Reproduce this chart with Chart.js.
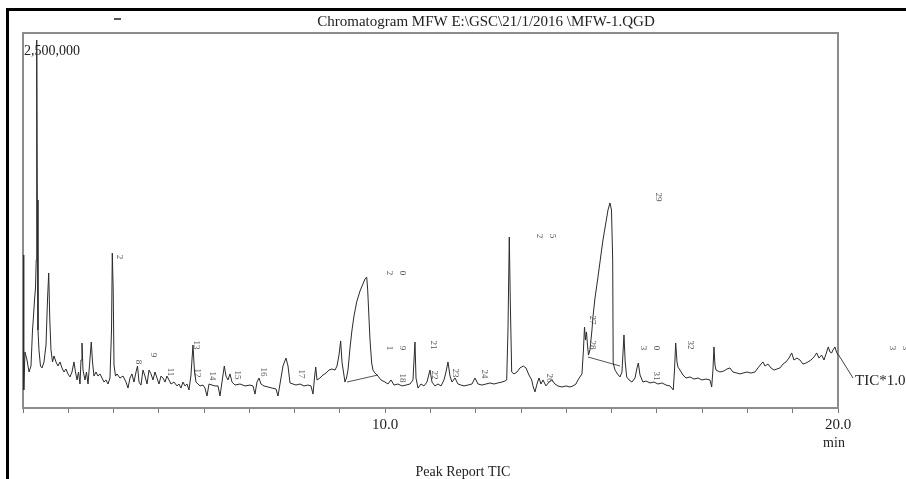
<!DOCTYPE html>
<html>
<head>
<meta charset="utf-8">
<script src="https://cdn.jsdelivr.net/npm/chart.js@4.4.1/dist/chart.umd.min.js"></script>
<style>
  body { margin: 0; background: #fff; }
  canvas { display: block; }
</style>
</head>
<body>
<canvas id="tic" width="906" height="479"></canvas>
<script>
// retention time (min) and TIC intensity (thousand counts)
var retentionTime = [
  2.000, 2.011, 2.022, 2.044, 2.088, 2.133, 2.177, 2.210, 2.232, 2.254, 2.276, 2.292, 2.303, 2.316, 2.331, 2.353,
  2.386, 2.420, 2.464, 2.508, 2.541, 2.568, 2.592, 2.618, 2.652, 2.685, 2.729, 2.773, 2.817, 2.861, 2.905, 2.950,
  2.994, 3.038, 3.082, 3.126, 3.159, 3.193, 3.226, 3.259, 3.281, 3.303, 3.325, 3.369, 3.402, 3.436, 3.469, 3.508,
  3.535, 3.568, 3.612, 3.656, 3.701, 3.745, 3.789, 3.833, 3.877, 3.921, 3.955, 3.972, 3.992, 4.010, 4.043, 4.076,
  4.142, 4.209, 4.275, 4.319, 4.363, 4.407, 4.451, 4.496, 4.529, 4.562, 4.606, 4.650, 4.694, 4.739, 4.783, 4.827,
  4.871, 4.915, 4.959, 5.004, 5.048, 5.092, 5.136, 5.180, 5.224, 5.269, 5.335, 5.401, 5.445, 5.489, 5.534, 5.578,
  5.622, 5.666, 5.710, 5.754, 5.788, 5.821, 5.865, 5.909, 5.975, 6.019, 6.064, 6.108, 6.174, 6.240, 6.307, 6.351,
  6.395, 6.446, 6.483, 6.527, 6.571, 6.616, 6.682, 6.792, 6.903, 7.013, 7.080, 7.124, 7.168, 7.212, 7.256, 7.322,
  7.411, 7.499, 7.588, 7.632, 7.676, 7.742, 7.808, 7.853, 7.897, 7.963, 8.029, 8.118, 8.206, 8.294, 8.361, 8.405,
  8.438, 8.465, 8.493, 8.559, 8.626, 8.692, 8.758, 8.824, 8.891, 8.935, 8.979, 9.016, 9.045, 9.078, 9.111, 9.144,
  9.178, 9.222, 9.266, 9.310, 9.370, 9.443, 9.516, 9.553, 9.591, 9.613, 9.630, 9.664, 9.701, 9.730, 9.774, 9.840,
  9.906, 9.995, 10.061, 10.127, 10.194, 10.282, 10.370, 10.459, 10.547, 10.613, 10.657, 10.680, 10.724, 10.790, 10.856, 10.922,
  10.989, 11.033, 11.099, 11.165, 11.232, 11.298, 11.342, 11.386, 11.431, 11.475, 11.541, 11.607, 11.673, 11.740, 11.828, 11.916,
  11.982, 12.049, 12.137, 12.226, 12.314, 12.402, 12.490, 12.579, 12.645, 12.683, 12.711, 12.740, 12.762, 12.793, 12.844, 12.910,
  12.976, 13.049, 13.109, 13.175, 13.235, 13.263, 13.307, 13.352, 13.396, 13.440, 13.484, 13.550, 13.617, 13.683, 13.749, 13.815,
  13.904, 13.992, 14.080, 14.147, 14.213, 14.257, 14.301, 14.345, 14.378, 14.401, 14.423, 14.445, 14.467, 14.489, 14.522, 14.566,
  14.588, 14.633, 14.699, 14.743, 14.809, 14.876, 14.920, 14.964, 14.997, 15.024, 15.035, 15.075, 15.130, 15.185, 15.229, 15.273,
  15.300, 15.333, 15.384, 15.450, 15.517, 15.561, 15.590, 15.627, 15.693, 15.759, 15.848, 15.936, 16.024, 16.112, 16.201, 16.289,
  16.362, 16.389, 16.415, 16.444, 16.466, 16.510, 16.576, 16.643, 16.731, 16.819, 16.907, 16.996, 17.084, 17.172, 17.210, 17.238,
  17.261, 17.283, 17.305, 17.393, 17.481, 17.548, 17.614, 17.680, 17.769, 17.835, 17.901, 17.990, 18.078, 18.166, 18.232, 18.299,
  18.343, 18.387, 18.453, 18.520, 18.586, 18.652, 18.718, 18.785, 18.851, 18.917, 18.977, 19.027, 19.094, 19.160, 19.226, 19.293,
  19.337, 19.403, 19.469, 19.529, 19.580, 19.639, 19.690, 19.735, 19.785, 19.823, 19.860, 19.889, 19.933, 19.967, 20.000
];
var ticKCounts = [
  1020, 453, 120, 373, 320, 240, 280, 520, 613, 720, 800, 987, 2453, 1387, 520, 387,
  280, 267, 307, 420, 720, 900, 587, 387, 307, 347, 307, 280, 307, 267, 240, 260,
  227, 207, 240, 307, 240, 187, 240, 160, 320, 433, 253, 187, 240, 160, 287, 440,
  307, 213, 240, 213, 227, 200, 173, 187, 160, 200, 520, 1033, 787, 287, 213, 227,
  200, 213, 173, 133, 200, 227, 173, 240, 280, 173, 153, 253, 213, 160, 253, 227,
  187, 240, 200, 160, 213, 200, 173, 213, 187, 160, 173, 147, 160, 133, 173, 147,
  160, 120, 220, 420, 240, 173, 160, 147, 153, 133, 80, 160, 153, 147, 147, 80,
  173, 280, 213, 187, 227, 173, 153, 160, 147, 153, 147, 93, 173, 200, 160, 147,
  140, 133, 127, 80, 160, 280, 333, 280, 167, 160, 153, 160, 147, 153, 147, 93,
  200, 273, 187, 200, 220, 233, 253, 260, 253, 280, 353, 447, 307, 240, 173, 200,
  253, 400, 520, 613, 707, 780, 833, 860, 873, 787, 673, 453, 300, 253, 233, 213,
  187, 173, 160, 187, 153, 160, 147, 153, 160, 187, 440, 200, 133, 160, 147, 173,
  253, 173, 147, 160, 147, 187, 240, 307, 213, 173, 200, 160, 153, 147, 153, 160,
  200, 160, 153, 160, 167, 160, 167, 173, 180, 187, 520, 1140, 720, 240, 227, 240,
  267, 280, 267, 220, 187, 147, 107, 160, 200, 160, 187, 147, 173, 187, 160, 147,
  140, 147, 140, 147, 160, 187, 207, 227, 387, 540, 453, 507, 420, 353, 387, 520,
  607, 733, 873, 973, 1120, 1240, 1320, 1367, 1320, 987, 300, 253, 227, 207, 240, 487,
  307, 207, 187, 173, 200, 267, 300, 220, 173, 180, 167, 173, 160, 167, 153, 147,
  120, 253, 433, 307, 273, 253, 220, 200, 207, 193, 200, 187, 193, 187, 140, 253,
  407, 287, 253, 240, 247, 260, 267, 240, 233, 227, 233, 240, 233, 240, 267, 293,
  307, 280, 293, 267, 253, 260, 267, 293, 307, 333, 367, 320, 333, 320, 293, 300,
  307, 320, 340, 367, 333, 353, 320, 360, 407, 373, 367, 387, 407, 373, 353
];

// integration baselines drawn under peaks 20 and 29 (null splits the two segments)
var baselineTime = [9.155, 9.840, null, 14.478, 15.185];
var baselineKCounts = [173, 220, null, 340, 280];

// peak numbers and where they sit (time, thousand counts)
var peakNames = ['2', '8', '9', '11', '13', '12', '14', '15', '16', '17', '20', '19', '18', '21', '22', '23', '24', '25', '26', '27', '28', '29', '30', '31', '32', '33'];
var peakTimes = [4.120, 4.540, 4.871, 5.246, 5.821, 5.843, 6.174, 6.726, 7.300, 8.140, 10.238, 10.238, 10.370, 11.055, 11.077, 11.541, 12.181, 13.550, 13.617, 14.566, 14.566, 16.024, 15.848, 15.980, 16.731, 21.346];
var peakKCounts = [1007, 307, 353, 240, 420, 233, 213, 220, 240, 227, 900, 400, 200, 420, 220, 233, 227, 1147, 200, 587, 420, 1407, 400, 213, 420, 400];
var splitNames = ['20', '19', '25', '30', '33'];

var xTickValues = [10, 20];
var xTickLabels = ['10.0', '20.0'];
var yTickValues = [2500];
var yTickLabels = ['2,500,000'];

var serif = '"Liberation Serif", "DejaVu Serif", serif';

var tracePoints = retentionTime.map(function (t, i) { return { x: t, y: ticKCounts[i] }; });
var basePoints = baselineTime.map(function (t, i) { return { x: t, y: baselineKCounts[i] }; });

const framePlugin = {
  id: 'frame',
  beforeDraw(chart) {
    const c = chart.ctx;
    c.save();
    c.fillStyle = '#fff';
    c.fillRect(0, 0, chart.width, chart.height);
    // outer page border
    c.strokeStyle = '#000';
    c.lineWidth = 3;
    c.beginPath();
    c.moveTo(7.5, 479);
    c.lineTo(7.5, 9.5);
    c.lineTo(906, 9.5);
    c.stroke();
    c.restore();
  },
  beforeDatasetsDraw(chart) {
    const c = chart.ctx;
    const a = chart.chartArea;
    c.save();
    c.strokeStyle = '#8c8c8c';
    c.lineWidth = 2;
    c.strokeRect(a.left, a.top, a.right - a.left, a.bottom - a.top);
    c.restore();
  },
  afterDraw(chart) {
    const c = chart.ctx;
    const a = chart.chartArea;
    c.save();
    c.fillStyle = '#222';
    c.font = '15px ' + serif;
    c.textBaseline = 'middle';
    c.textAlign = 'center';
    c.fillText('Chromatogram MFW E:\\GSC\\21/1/2016 \\MFW-1.QGD', 486, 22);
    c.font = '14px ' + serif;
    c.fillText('min', 834, 443);
    c.fillText('Peak Report TIC', 463, 472);
    c.textAlign = 'left';
    c.font = '15px ' + serif;
    c.fillText('TIC*1.0', 855, 381);
    // leader from end of trace to the TIC label
    c.strokeStyle = '#444';
    c.lineWidth = 1;
    c.beginPath();
    c.moveTo(a.right, 354);
    c.lineTo(853, 378);
    c.stroke();
    c.fillStyle = '#555';
    c.fillRect(114, 18, 7, 2);
    c.restore();
  }
};

const peakLabelPlugin = {
  id: 'peakLabels',
  afterDatasetsDraw(chart) {
    const c = chart.ctx;
    const x = chart.scales.x, y = chart.scales.y;
    c.save();
    c.fillStyle = '#555';
    c.font = '9px ' + serif;
    c.textAlign = 'center';
    c.textBaseline = 'middle';
    peakNames.forEach(function (name, i) {
      const px = x.getPixelForValue(peakTimes[i]);
      const py = y.getPixelForValue(peakKCounts[i]);
      if (splitNames.indexOf(name) >= 0) {
        for (let k = 0; k < name.length; k++) {
          c.save();
          c.translate(px + (k - 0.5) * 13, py);
          c.rotate(Math.PI / 2);
          c.fillText(name[k], 0, 0);
          c.restore();
        }
      } else {
        c.save();
        c.translate(px, py);
        c.rotate(Math.PI / 2);
        c.fillText(name, 0, 0);
        c.restore();
      }
    });
    c.restore();
  }
};

const ctx = document.getElementById('tic');
const chart = new Chart(ctx, {
  type: 'line',
  data: {
    datasets: [{
      data: tracePoints,
      borderColor: '#2b2b2b',
      borderWidth: 1,
      pointRadius: 0,
      tension: 0
    }, {
      data: basePoints,
      borderColor: '#555',
      borderWidth: 1,
      pointRadius: 0,
      spanGaps: false
    }]
  },
  options: {
    responsive: false,
    animation: false,
    layout: { padding: { left: 23, right: 68, top: 33, bottom: 42 } },
    plugins: {
      legend: { display: false },
      tooltip: { enabled: false },
      title: { display: false }
    },
    scales: {
      x: {
        type: 'linear',
        min: 2,
        max: 20,
        grid: {
          display: true,
          drawOnChartArea: false,
          drawTicks: true,
          tickLength: 5,
          color: '#777'
        },
        border: { display: true, color: '#8c8c8c', width: 2 },
        ticks: {
          stepSize: 1,
          autoSkip: false,
          maxRotation: 0,
          padding: 3,
          color: '#222',
          font: { family: serif, size: 15 },
          callback: function (value) {
            const i = xTickValues.indexOf(value);
            return i >= 0 ? xTickLabels[i] : '';
          }
        }
      },
      y: {
        min: 0,
        max: 2500,
        grid: { display: false },
        border: { display: false },
        afterBuildTicks: function (scale) {
          scale.ticks = yTickValues.map(function (v) { return { value: v }; });
        },
        afterFit: function (scale) { scale.width = 0; },
        ticks: {
          mirror: true,
          padding: 1,
          labelOffset: 18,
          color: '#222',
          font: { family: serif, size: 14 },
          callback: function (value) {
            const i = yTickValues.indexOf(value);
            return i >= 0 ? yTickLabels[i] : '';
          }
        }
      }
    }
  },
  plugins: [framePlugin, peakLabelPlugin]
});
</script>
</body>
</html>
